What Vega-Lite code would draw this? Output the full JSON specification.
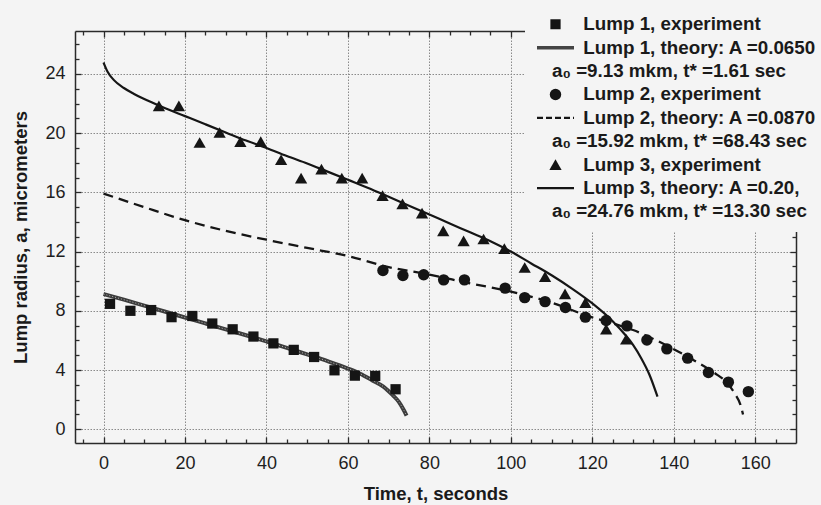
{
  "$schema": "https://vega.github.io/schema/vega-lite/v6.json",
  "width": 721,
  "height": 412,
  "autosize": "none",
  "padding": {"left": 75, "top": 31, "right": 25, "bottom": 62},
  "background": "#f4f4f4",
  "config": {
    "view": {"stroke": null},
    "font": "Liberation Sans",
    "axis": {
      "domainColor": "#2a2a2a",
      "domainWidth": 1.5,
      "tickColor": "#2a2a2a",
      "tickWidth": 1.3,
      "labelColor": "#1e1e1e",
      "labelFont": "Liberation Sans",
      "labelFontSize": 18,
      "titleColor": "#1a1a1a",
      "titleFont": "Liberation Sans",
      "titleFontSize": 18.5,
      "titleFontWeight": "bold",
      "gridColor": "#8a8a8a",
      "gridDash": [1.5, 1.5],
      "gridWidth": 1
    }
  },
  "data": {
    "values": [
      {"series": "Lump 1, experiment", "t": 1.6, "a": 8.47},
      {"series": "Lump 1, experiment", "t": 6.6, "a": 8.0},
      {"series": "Lump 1, experiment", "t": 11.7, "a": 8.05},
      {"series": "Lump 1, experiment", "t": 16.7, "a": 7.57},
      {"series": "Lump 1, experiment", "t": 21.8, "a": 7.65},
      {"series": "Lump 1, experiment", "t": 26.7, "a": 7.14},
      {"series": "Lump 1, experiment", "t": 31.7, "a": 6.75},
      {"series": "Lump 1, experiment", "t": 36.8, "a": 6.26},
      {"series": "Lump 1, experiment", "t": 41.7, "a": 5.8},
      {"series": "Lump 1, experiment", "t": 46.7, "a": 5.36},
      {"series": "Lump 1, experiment", "t": 51.7, "a": 4.88},
      {"series": "Lump 1, experiment", "t": 56.7, "a": 3.98},
      {"series": "Lump 1, experiment", "t": 61.7, "a": 3.62},
      {"series": "Lump 1, experiment", "t": 66.7, "a": 3.6},
      {"series": "Lump 1, experiment", "t": 71.7, "a": 2.7},

      {"series": "Lump 2, experiment", "t": 68.6, "a": 10.72},
      {"series": "Lump 2, experiment", "t": 73.5, "a": 10.38},
      {"series": "Lump 2, experiment", "t": 78.6, "a": 10.43},
      {"series": "Lump 2, experiment", "t": 83.5, "a": 10.09},
      {"series": "Lump 2, experiment", "t": 88.6, "a": 10.09},
      {"series": "Lump 2, experiment", "t": 98.6, "a": 9.53},
      {"series": "Lump 2, experiment", "t": 103.4, "a": 8.89},
      {"series": "Lump 2, experiment", "t": 108.4, "a": 8.62},
      {"series": "Lump 2, experiment", "t": 113.4, "a": 8.22},
      {"series": "Lump 2, experiment", "t": 118.3, "a": 7.57},
      {"series": "Lump 2, experiment", "t": 123.4, "a": 7.34},
      {"series": "Lump 2, experiment", "t": 128.5, "a": 6.98},
      {"series": "Lump 2, experiment", "t": 133.4, "a": 6.03},
      {"series": "Lump 2, experiment", "t": 138.3, "a": 5.43},
      {"series": "Lump 2, experiment", "t": 143.4, "a": 4.8},
      {"series": "Lump 2, experiment", "t": 148.5, "a": 3.83},
      {"series": "Lump 2, experiment", "t": 153.4, "a": 3.18},
      {"series": "Lump 2, experiment", "t": 158.3, "a": 2.54},

      {"series": "Lump 3, experiment", "t": 13.6, "a": 21.84},
      {"series": "Lump 3, experiment", "t": 18.5, "a": 21.84},
      {"series": "Lump 3, experiment", "t": 23.6, "a": 19.37},
      {"series": "Lump 3, experiment", "t": 28.5, "a": 20.04},
      {"series": "Lump 3, experiment", "t": 33.6, "a": 19.43},
      {"series": "Lump 3, experiment", "t": 38.6, "a": 19.43},
      {"series": "Lump 3, experiment", "t": 43.6, "a": 18.2},
      {"series": "Lump 3, experiment", "t": 48.5, "a": 16.96},
      {"series": "Lump 3, experiment", "t": 53.5, "a": 17.57},
      {"series": "Lump 3, experiment", "t": 58.5, "a": 16.96},
      {"series": "Lump 3, experiment", "t": 63.5, "a": 16.96},
      {"series": "Lump 3, experiment", "t": 68.5, "a": 15.78},
      {"series": "Lump 3, experiment", "t": 73.4, "a": 15.22},
      {"series": "Lump 3, experiment", "t": 78.2, "a": 14.6},
      {"series": "Lump 3, experiment", "t": 83.4, "a": 13.4},
      {"series": "Lump 3, experiment", "t": 88.4, "a": 12.72},
      {"series": "Lump 3, experiment", "t": 93.3, "a": 12.85},
      {"series": "Lump 3, experiment", "t": 98.4, "a": 12.2},
      {"series": "Lump 3, experiment", "t": 103.4, "a": 10.92},
      {"series": "Lump 3, experiment", "t": 108.4, "a": 10.31},
      {"series": "Lump 3, experiment", "t": 113.3, "a": 9.14},
      {"series": "Lump 3, experiment", "t": 118.3, "a": 8.55},
      {"series": "Lump 3, experiment", "t": 123.4, "a": 6.76},
      {"series": "Lump 3, experiment", "t": 128.3, "a": 6.08},

      {"series": "Lump 1, theory: A =0.0650", "t": 0, "a": 9.13},
      {"series": "Lump 1, theory: A =0.0650", "t": 5, "a": 8.75},
      {"series": "Lump 1, theory: A =0.0650", "t": 10, "a": 8.35},
      {"series": "Lump 1, theory: A =0.0650", "t": 15, "a": 7.95},
      {"series": "Lump 1, theory: A =0.0650", "t": 20, "a": 7.55},
      {"series": "Lump 1, theory: A =0.0650", "t": 25, "a": 7.15},
      {"series": "Lump 1, theory: A =0.0650", "t": 30, "a": 6.75},
      {"series": "Lump 1, theory: A =0.0650", "t": 35, "a": 6.35},
      {"series": "Lump 1, theory: A =0.0650", "t": 40, "a": 5.93},
      {"series": "Lump 1, theory: A =0.0650", "t": 45, "a": 5.5},
      {"series": "Lump 1, theory: A =0.0650", "t": 50, "a": 5.05},
      {"series": "Lump 1, theory: A =0.0650", "t": 55, "a": 4.6},
      {"series": "Lump 1, theory: A =0.0650", "t": 60, "a": 4.1},
      {"series": "Lump 1, theory: A =0.0650", "t": 63, "a": 3.75},
      {"series": "Lump 1, theory: A =0.0650", "t": 66, "a": 3.3},
      {"series": "Lump 1, theory: A =0.0650", "t": 68.7, "a": 2.88},
      {"series": "Lump 1, theory: A =0.0650", "t": 71, "a": 2.3},
      {"series": "Lump 1, theory: A =0.0650", "t": 72.5, "a": 1.85},
      {"series": "Lump 1, theory: A =0.0650", "t": 73.7, "a": 1.3},
      {"series": "Lump 1, theory: A =0.0650", "t": 74.4, "a": 0.92},

      {"series": "Lump 2, theory: A =0.0870", "t": 0, "a": 15.92},
      {"series": "Lump 2, theory: A =0.0870", "t": 10, "a": 15.0},
      {"series": "Lump 2, theory: A =0.0870", "t": 20, "a": 14.12},
      {"series": "Lump 2, theory: A =0.0870", "t": 30, "a": 13.4},
      {"series": "Lump 2, theory: A =0.0870", "t": 40, "a": 12.8},
      {"series": "Lump 2, theory: A =0.0870", "t": 50, "a": 12.25},
      {"series": "Lump 2, theory: A =0.0870", "t": 60, "a": 11.7},
      {"series": "Lump 2, theory: A =0.0870", "t": 70, "a": 10.95},
      {"series": "Lump 2, theory: A =0.0870", "t": 80, "a": 10.45},
      {"series": "Lump 2, theory: A =0.0870", "t": 90, "a": 9.85},
      {"series": "Lump 2, theory: A =0.0870", "t": 100, "a": 9.3},
      {"series": "Lump 2, theory: A =0.0870", "t": 110, "a": 8.55},
      {"series": "Lump 2, theory: A =0.0870", "t": 120, "a": 7.55},
      {"series": "Lump 2, theory: A =0.0870", "t": 125, "a": 7.15},
      {"series": "Lump 2, theory: A =0.0870", "t": 130, "a": 6.7},
      {"series": "Lump 2, theory: A =0.0870", "t": 135, "a": 6.1},
      {"series": "Lump 2, theory: A =0.0870", "t": 140, "a": 5.4},
      {"series": "Lump 2, theory: A =0.0870", "t": 145, "a": 4.65},
      {"series": "Lump 2, theory: A =0.0870", "t": 150, "a": 3.8},
      {"series": "Lump 2, theory: A =0.0870", "t": 153, "a": 3.15},
      {"series": "Lump 2, theory: A =0.0870", "t": 155, "a": 2.4},
      {"series": "Lump 2, theory: A =0.0870", "t": 156.3, "a": 1.7},
      {"series": "Lump 2, theory: A =0.0870", "t": 157, "a": 1.0},

      {"series": "Lump 3, theory: A =0.20,", "t": 0, "a": 24.77},
      {"series": "Lump 3, theory: A =0.20,", "t": 1, "a": 24.15},
      {"series": "Lump 3, theory: A =0.20,", "t": 2.5, "a": 23.6},
      {"series": "Lump 3, theory: A =0.20,", "t": 5, "a": 23.05},
      {"series": "Lump 3, theory: A =0.20,", "t": 7.5, "a": 22.65},
      {"series": "Lump 3, theory: A =0.20,", "t": 10, "a": 22.3},
      {"series": "Lump 3, theory: A =0.20,", "t": 15, "a": 21.7},
      {"series": "Lump 3, theory: A =0.20,", "t": 20, "a": 21.15},
      {"series": "Lump 3, theory: A =0.20,", "t": 25, "a": 20.6},
      {"series": "Lump 3, theory: A =0.20,", "t": 30, "a": 20.05},
      {"series": "Lump 3, theory: A =0.20,", "t": 35, "a": 19.5},
      {"series": "Lump 3, theory: A =0.20,", "t": 40, "a": 19.0},
      {"series": "Lump 3, theory: A =0.20,", "t": 45, "a": 18.45},
      {"series": "Lump 3, theory: A =0.20,", "t": 50, "a": 17.95},
      {"series": "Lump 3, theory: A =0.20,", "t": 55, "a": 17.4},
      {"series": "Lump 3, theory: A =0.20,", "t": 60, "a": 16.85},
      {"series": "Lump 3, theory: A =0.20,", "t": 65, "a": 16.3},
      {"series": "Lump 3, theory: A =0.20,", "t": 70, "a": 15.7},
      {"series": "Lump 3, theory: A =0.20,", "t": 75, "a": 15.1},
      {"series": "Lump 3, theory: A =0.20,", "t": 80, "a": 14.5},
      {"series": "Lump 3, theory: A =0.20,", "t": 85, "a": 13.9},
      {"series": "Lump 3, theory: A =0.20,", "t": 90, "a": 13.3},
      {"series": "Lump 3, theory: A =0.20,", "t": 95, "a": 12.7},
      {"series": "Lump 3, theory: A =0.20,", "t": 100, "a": 12.0},
      {"series": "Lump 3, theory: A =0.20,", "t": 105, "a": 11.2},
      {"series": "Lump 3, theory: A =0.20,", "t": 110, "a": 10.4},
      {"series": "Lump 3, theory: A =0.20,", "t": 115, "a": 9.5},
      {"series": "Lump 3, theory: A =0.20,", "t": 120, "a": 8.5},
      {"series": "Lump 3, theory: A =0.20,", "t": 125, "a": 7.3},
      {"series": "Lump 3, theory: A =0.20,", "t": 128, "a": 6.4},
      {"series": "Lump 3, theory: A =0.20,", "t": 130, "a": 5.7},
      {"series": "Lump 3, theory: A =0.20,", "t": 132, "a": 4.8},
      {"series": "Lump 3, theory: A =0.20,", "t": 134, "a": 3.7},
      {"series": "Lump 3, theory: A =0.20,", "t": 136, "a": 2.2}
    ]
  },
  "encoding": {
    "x": {"field": "t", "type": "quantitative", "scale": {"domain": [-7, 170], "nice": false, "zero": false}, "axis": null},
    "y": {"field": "a", "type": "quantitative", "scale": {"domain": [-0.93, 26.9], "nice": false, "zero": false}, "axis": null}
  },
  "layer": [
    {
      "mark": {"type": "point", "opacity": 0},
      "encoding": {
        "x": {"field": "t", "type": "quantitative", "scale": {"domain": [-7, 170], "nice": false, "zero": false},
          "axis": {"orient": "bottom", "values": [0, 20, 40, 60, 80, 100, 120, 140, 160], "grid": true, "tickSize": -6, "labelPadding": 17, "title": "Time, t, seconds", "titlePadding": 12}},
        "y": {"field": "a", "type": "quantitative", "scale": {"domain": [-0.93, 26.9], "nice": false, "zero": false},
          "axis": {"orient": "left", "values": [0, 4, 8, 12, 16, 20, 24], "grid": true, "tickSize": -6, "labelPadding": 16, "title": "Lump radius, a, micrometers", "titlePadding": 14}}
      }
    },
    {
      "mark": {"type": "point", "opacity": 0},
      "encoding": {
        "x": {"field": "t", "type": "quantitative", "scale": {"domain": [-7, 170], "nice": false, "zero": false},
          "axis": {"orient": "bottom", "values": [-5, 5, 10, 15, 25, 30, 35, 45, 50, 55, 65, 70, 75, 85, 90, 95, 105, 110, 115, 125, 130, 135, 145, 150, 155, 165], "grid": false, "domain": false, "labels": false, "tickSize": -4, "title": null}},
        "y": {"field": "a", "type": "quantitative", "scale": {"domain": [-0.93, 26.9], "nice": false, "zero": false},
          "axis": {"orient": "left", "values": [1, 2, 3, 5, 6, 7, 9, 10, 11, 13, 14, 15, 17, 18, 19, 21, 22, 23, 25, 26], "grid": false, "domain": false, "labels": false, "tickSize": -4, "title": null}}
      }
    },
    {
      "mark": {"type": "point", "opacity": 0},
      "encoding": {
        "x": {"field": "t", "type": "quantitative", "scale": {"domain": [-7, 170], "nice": false, "zero": false},
          "axis": {"orient": "top", "values": [0, 20, 40, 60, 80, 100, 120, 140, 160], "grid": false, "labels": false, "tickSize": -6, "title": null}},
        "y": {"field": "a", "type": "quantitative", "scale": {"domain": [-0.93, 26.9], "nice": false, "zero": false},
          "axis": {"orient": "right", "values": [0, 4, 8, 12, 16, 20, 24], "grid": false, "labels": false, "tickSize": -6, "title": null}}
      }
    },
    {
      "mark": {"type": "point", "opacity": 0},
      "encoding": {
        "x": {"field": "t", "type": "quantitative", "scale": {"domain": [-7, 170], "nice": false, "zero": false},
          "axis": {"orient": "top", "values": [-5, 5, 10, 15, 25, 30, 35, 45, 50, 55, 65, 70, 75, 85, 90, 95, 105, 110, 115, 125, 130, 135, 145, 150, 155, 165], "grid": false, "domain": false, "labels": false, "tickSize": -4, "title": null}},
        "y": {"field": "a", "type": "quantitative", "scale": {"domain": [-0.93, 26.9], "nice": false, "zero": false},
          "axis": {"orient": "right", "values": [1, 2, 3, 5, 6, 7, 9, 10, 11, 13, 14, 15, 17, 18, 19, 21, 22, 23, 25, 26], "grid": false, "domain": false, "labels": false, "tickSize": -4, "title": null}}
      }
    },
    {
      "transform": [{"filter": "datum.series == 'Lump 1, theory: A =0.0650'"}],
      "mark": {"type": "line", "color": "#3c3c3c", "strokeWidth": 4, "interpolate": "monotone"}
    },
    {
      "transform": [{"filter": "datum.series == 'Lump 1, theory: A =0.0650'"}],
      "mark": {"type": "line", "color": "#b5b5b5", "strokeWidth": 1, "strokeDash": [1, 2], "interpolate": "monotone"}
    },
    {
      "transform": [{"filter": "datum.series == 'Lump 2, theory: A =0.0870'"}],
      "mark": {"type": "line", "color": "#151515", "strokeWidth": 2.3, "strokeDash": [10, 6], "interpolate": "monotone"}
    },
    {
      "transform": [{"filter": "datum.series == 'Lump 3, theory: A =0.20,'"}],
      "mark": {"type": "line", "color": "#151515", "strokeWidth": 2.2, "interpolate": "monotone"}
    },
    {
      "transform": [{"filter": "indexof(datum.series, 'experiment') >= 0"}],
      "mark": {"type": "point", "filled": true, "color": "#151515", "opacity": 1},
      "encoding": {
        "size": {"field": "series", "type": "nominal",
          "scale": {
            "type": "ordinal",
            "domain": ["Lump 1, experiment", "Lump 1, theory: A =0.0650", "a₀ =9.13 mkm, t* =1.61 sec", "Lump 2, experiment", "Lump 2, theory: A =0.0870", "a₀ =15.92 mkm, t* =68.43 sec", "Lump 3, experiment", "Lump 3, theory: A =0.20,", "a₀ =24.76 mkm, t* =13.30 sec"],
            "range": [105, 1369, 0, 130, 1369, 0, 150, 1369, 0]
          }
        },
        "strokeWidth": {"field": "series", "type": "nominal",
          "scale": {
            "type": "ordinal",
            "domain": ["Lump 1, experiment", "Lump 1, theory: A =0.0650", "a₀ =9.13 mkm, t* =1.61 sec", "Lump 2, experiment", "Lump 2, theory: A =0.0870", "a₀ =15.92 mkm, t* =68.43 sec", "Lump 3, experiment", "Lump 3, theory: A =0.20,", "a₀ =24.76 mkm, t* =13.30 sec"],
            "range": [0, 3.5, 0, 0, 2.2, 0, 0, 2.2, 0]
          }
        },
        "strokeDash": {"field": "series", "type": "nominal",
          "scale": {
            "type": "ordinal",
            "domain": ["Lump 1, experiment", "Lump 1, theory: A =0.0650", "a₀ =9.13 mkm, t* =1.61 sec", "Lump 2, experiment", "Lump 2, theory: A =0.0870", "a₀ =15.92 mkm, t* =68.43 sec", "Lump 3, experiment", "Lump 3, theory: A =0.20,", "a₀ =24.76 mkm, t* =13.30 sec"],
            "range": [[1, 0], [1, 0], [1, 0], [1, 0], [6, 3], [1, 0], [1, 0], [1, 0], [1, 0]]
          }
        },
        "stroke": {"field": "series", "type": "nominal",
          "scale": {
            "type": "ordinal",
            "domain": ["Lump 1, experiment", "Lump 1, theory: A =0.0650", "a₀ =9.13 mkm, t* =1.61 sec", "Lump 2, experiment", "Lump 2, theory: A =0.0870", "a₀ =15.92 mkm, t* =68.43 sec", "Lump 3, experiment", "Lump 3, theory: A =0.20,", "a₀ =24.76 mkm, t* =13.30 sec"],
            "range": ["#151515", "#444444", "#151515", "#151515", "#151515", "#151515", "#151515", "#151515", "#151515"]
          }
        },
        "shape": {
          "field": "series", "type": "nominal",
          "scale": {
            "type": "ordinal",
            "domain": ["Lump 1, experiment", "Lump 1, theory: A =0.0650", "a₀ =9.13 mkm, t* =1.61 sec", "Lump 2, experiment", "Lump 2, theory: A =0.0870", "a₀ =15.92 mkm, t* =68.43 sec", "Lump 3, experiment", "Lump 3, theory: A =0.20,", "a₀ =24.76 mkm, t* =13.30 sec"],
            "range": ["square", "stroke", "circle", "circle", "stroke", "circle", "triangle-up", "stroke", "circle"]
          },
          "legend": {
            "title": null,
            "orient": "none",
            "direction": "vertical",
            "columns": 1,
            "legendX": 450,
            "legendY": -26,
            "padding": 10,
            "fillColor": "#f4f4f4",
            "zindex": 2,
            "symbolOpacity": 1,
            "clipHeight": 18.5,
            "labelOffset": -24,
            "labelExpr": "indexof(datum.label, 'a₀') == 0 ? datum.label : '\u200b\u00a0\u00a0\u00a0\u00a0\u00a0\u00a0' + datum.label",
            "labelFont": "Liberation Sans",
            "labelFontSize": 18.8,
            "labelFontWeight": "bold",
            "labelColor": "#1a1a1a",
            "labelLimit": 400,
            "rowPadding": 3.4
          }
        }
      }
    }
  ],
  "resolve": {"axis": {"x": "independent", "y": "independent"}}
}
